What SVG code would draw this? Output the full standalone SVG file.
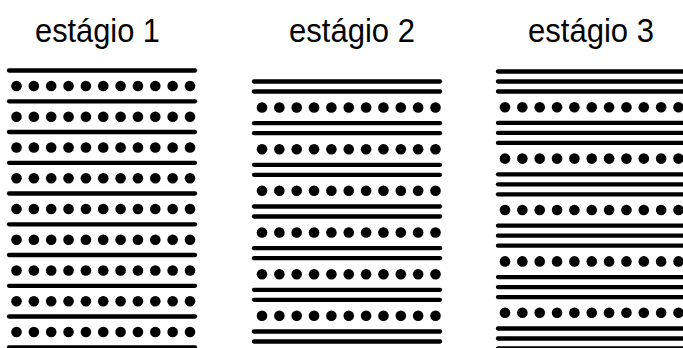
<svg xmlns="http://www.w3.org/2000/svg" xmlns:xlink="http://www.w3.org/1999/xlink" width="683" height="348" viewBox="0 0 683 348">
<style>
.t{font-family:"Liberation Sans",Arial,sans-serif;font-size:33px;fill:#000}
.ln{stroke:#000;stroke-width:4.3;stroke-linecap:round}
</style>
<defs>
<g id="dots">
<circle cx="0" cy="0" r="5.3"/><circle cx="17.35" cy="0" r="5.3"/><circle cx="34.7" cy="0" r="5.3"/><circle cx="52.05" cy="0" r="5.3"/><circle cx="69.4" cy="0" r="5.3"/><circle cx="86.75" cy="0" r="5.3"/><circle cx="104.1" cy="0" r="5.3"/><circle cx="121.45" cy="0" r="5.3"/><circle cx="138.8" cy="0" r="5.3"/><circle cx="156.15" cy="0" r="5.3"/><circle cx="173.5" cy="0" r="5.3"/>
</g>
<line id="l1" class="ln" x1="0" y1="0" x2="186" y2="0"/>
<line id="l3" class="ln" x1="0" y1="0" x2="200" y2="0"/>
</defs>
<rect width="683" height="348" fill="#fff"/>
<g id="labels">
<text class="t" x="35" y="42" textLength="125" lengthAdjust="spacingAndGlyphs">estágio 1</text>
<text class="t" x="289" y="42" textLength="126" lengthAdjust="spacingAndGlyphs">estágio 2</text>
<text class="t" x="528" y="42" textLength="126" lengthAdjust="spacingAndGlyphs">estágio 3</text>
</g>
<g id="stage1" transform="translate(9,0)">
<use xlink:href="#l1" y="70.5"/><use xlink:href="#l1" y="101.3"/><use xlink:href="#l1" y="132"/><use xlink:href="#l1" y="162.8"/><use xlink:href="#l1" y="193.5"/><use xlink:href="#l1" y="224.3"/><use xlink:href="#l1" y="255"/><use xlink:href="#l1" y="285.8"/><use xlink:href="#l1" y="316.5"/><use xlink:href="#l1" y="347.3"/>
</g>
<g id="stage1dots" transform="translate(16.5,0)">
<use xlink:href="#dots" y="86"/><use xlink:href="#dots" y="116.8"/><use xlink:href="#dots" y="147.5"/><use xlink:href="#dots" y="178.3"/><use xlink:href="#dots" y="209"/><use xlink:href="#dots" y="239.8"/><use xlink:href="#dots" y="270.5"/><use xlink:href="#dots" y="301.3"/><use xlink:href="#dots" y="332"/>
</g>
<g id="stage2" transform="translate(254,0)">
<use xlink:href="#l1" y="81.5"/><use xlink:href="#l1" y="91.5"/>
<use xlink:href="#l1" y="123.2"/><use xlink:href="#l1" y="133.2"/>
<use xlink:href="#l1" y="164.8"/><use xlink:href="#l1" y="174.8"/>
<use xlink:href="#l1" y="206.5"/><use xlink:href="#l1" y="216.5"/>
<use xlink:href="#l1" y="248.2"/><use xlink:href="#l1" y="258.2"/>
<use xlink:href="#l1" y="289.8"/><use xlink:href="#l1" y="299.8"/>
<use xlink:href="#l1" y="331.5"/><use xlink:href="#l1" y="341.5"/>
</g>
<g id="stage2dots" transform="translate(262,0)">
<use xlink:href="#dots" y="107.5"/><use xlink:href="#dots" y="149.2"/><use xlink:href="#dots" y="190.8"/><use xlink:href="#dots" y="232.5"/><use xlink:href="#dots" y="274.2"/><use xlink:href="#dots" y="315.8"/>
</g>
<g id="stage3" transform="translate(498,0)">
<use xlink:href="#l3" y="71.5"/><use xlink:href="#l3" y="81.5"/><use xlink:href="#l3" y="91.5"/>
<use xlink:href="#l3" y="122.9"/><use xlink:href="#l3" y="132.9"/><use xlink:href="#l3" y="142.9"/>
<use xlink:href="#l3" y="174.3"/><use xlink:href="#l3" y="184.3"/><use xlink:href="#l3" y="194.3"/>
<use xlink:href="#l3" y="225.7"/><use xlink:href="#l3" y="235.7"/><use xlink:href="#l3" y="245.7"/>
<use xlink:href="#l3" y="277.1"/><use xlink:href="#l3" y="287.1"/><use xlink:href="#l3" y="297.1"/>
<use xlink:href="#l3" y="328.5"/><use xlink:href="#l3" y="338.5"/><use xlink:href="#l3" y="348.5"/>
</g>
<g id="stage3dots" transform="translate(505,0)">
<use xlink:href="#dots" y="107.2"/><use xlink:href="#dots" y="158.6"/><use xlink:href="#dots" y="210"/><use xlink:href="#dots" y="261.4"/><use xlink:href="#dots" y="312.8"/>
</g>
</svg>
